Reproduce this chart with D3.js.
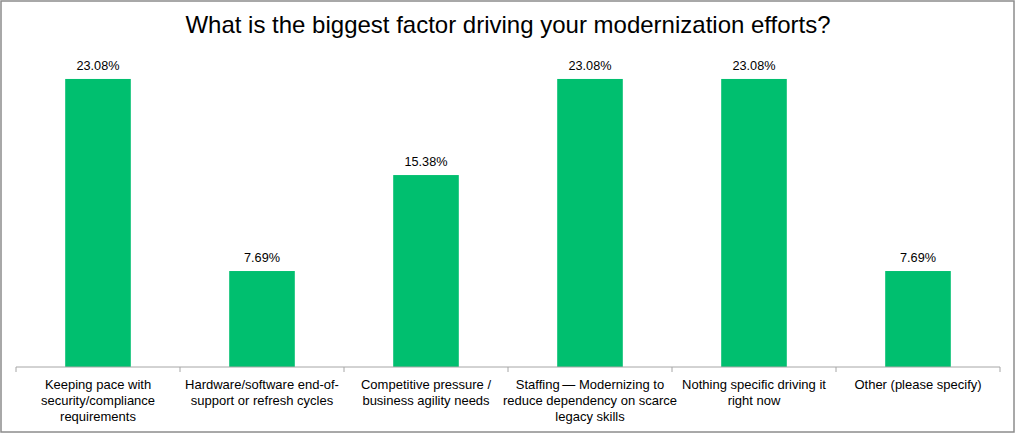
<!DOCTYPE html>
<html lang="en">
<head>
    <meta charset="UTF-8">
    <title>Modernization drivers</title>
    <script src="https://d3js.org/d3.v7.min.js"></script>
    <style>
        body { margin: 0; background: white; }
        svg { font-family: "Liberation Sans", Arial, Helvetica, sans-serif; display: block; }
        .frame { fill: none; stroke: #8c8c8c; stroke-width: 1.5px; }
        .bar { fill: #00bf6f; }
        .value { font-size: 12.7px; fill: #000; text-anchor: middle; }
        .cat { font-size: 13px; fill: #000; text-anchor: middle; }
        .title { font-size: 24px; fill: #000; text-anchor: middle; }
        .axis path, .axis line { stroke: #a6a6a6; }
    </style>
</head>
<body>
<svg></svg>
<script>
const [width, height] = [1016, 434]

const categories = [
    ["Keeping pace with", "security/compliance", "requirements"],
    ["Hardware/software end-of-", "support or refresh cycles"],
    ["Competitive pressure /", "business agility needs"],
    ["Staffing\u2009\u2014 Modernizing to", "reduce dependency on scarce", "legacy skills"],
    ["Nothing specific driving it", "right now"],
    ["Other (please specify)"]
]
const values = [23.08, 7.69, 15.38, 23.08, 23.08, 7.69]
const title = "What is the biggest factor driving your modernization efforts?"

const svg = d3.select("svg").attr("width", width).attr("height", height)

svg.append("rect").attr("class", "frame")
    .attr("x", 1).attr("y", 1).attr("width", width - 3).attr("height", height - 3)

const x = d3.scaleBand()
    .domain(d3.range(categories.length))
    .range([16, 1000])
    .paddingInner(0.6)
    .paddingOuter(0.3)

const y = d3.scaleLinear().domain([0, 25]).range([367, 55])

svg.append("text").attr("class", "title")
    .attr("x", 508).attr("y", 33)
    .text(title)

svg.selectAll(".bar").data(values)
    .join("rect").attr("class", "bar")
    .attr("x", (d, i) => x(i))
    .attr("y", d => y(d))
    .attr("width", x.bandwidth())
    .attr("height", d => y(0) - y(d))

svg.selectAll(".value").data(values)
    .join("text").attr("class", "value")
    .attr("x", (d, i) => x(i) + x.bandwidth() / 2)
    .attr("y", d => y(d) - 9)
    .text(d => d.toFixed(2) + "%")

// axis with ticks at band edges
const edges = d3.range(categories.length + 1).map(i => 16 + i * x.step())
const axis = svg.append("g").attr("class", "axis")
axis.append("path").attr("d", `M${edges[0]},${y(0)}H${edges[edges.length - 1]}`)
axis.selectAll("line").data(edges)
    .join("line")
    .attr("x1", d => d).attr("x2", d => d)
    .attr("y1", y(0)).attr("y2", y(0) + 5)

const labels = svg.selectAll(".cat").data(categories)
    .join("text").attr("class", "cat")
    .attr("transform", (d, i) => `translate(${x(i) + x.bandwidth() / 2},389)`)
labels.selectAll("tspan").data(d => d)
    .join("tspan")
    .attr("x", 0)
    .attr("y", (d, j) => j * 16)
    .text(d => d)
</script>
</body>
</html>
